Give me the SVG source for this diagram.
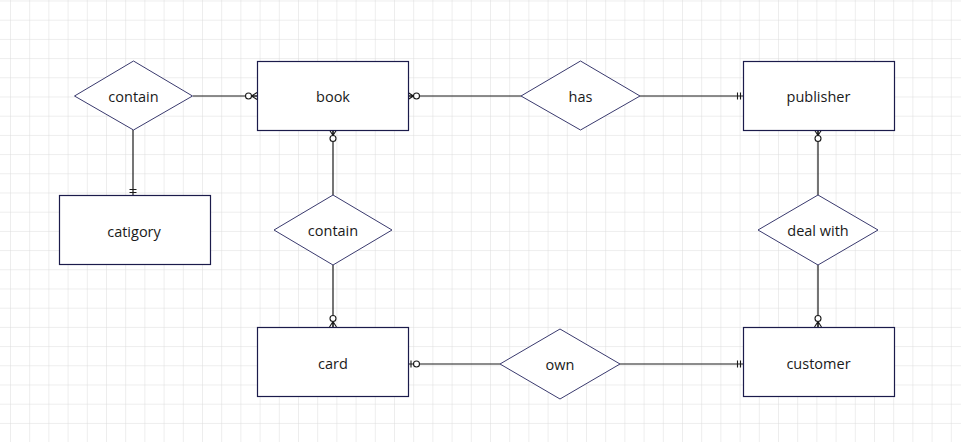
<svg xmlns="http://www.w3.org/2000/svg" width="961" height="442" viewBox="0 0 961 442">
<style>
.ent{fill:#ffffff;stroke:#1b1b4b;stroke-width:1.2}
.rel{fill:#ffffff;stroke:#3a3a6e;stroke-width:1}
.lbl{font-family:"Open Sans","Noto Sans","Liberation Sans",sans-serif;font-size:14.5px;fill:#1a1a1a;text-anchor:middle;dominant-baseline:central}
.conn{stroke:#1a1a1a;stroke-width:1.2;fill:none}
.mk{stroke:#1a1a1a;stroke-width:1.1;fill:none}
.mkc{stroke:#1a1a1a;stroke-width:1.1;fill:#ffffff}
</style>
<defs>
<pattern id="grid" patternUnits="userSpaceOnUse" x="10" y="0.5" width="19.2" height="19.2">
<path d="M0 0H19.2M0 0V19.2" stroke="#dcdcdc" stroke-width="1" fill="none"/>
</pattern>
<marker id="zeroMany" markerUnits="userSpaceOnUse" markerWidth="20" markerHeight="20" viewBox="0 0 20 20" refX="20" refY="10" orient="auto">
<path class="mk" d="M14.5 10L20 6.5M14.5 10L20 10M14.5 10L20 13.5"/>
<circle class="mkc" cx="11.5" cy="10" r="3"/>
</marker>
<marker id="zeroOne" markerUnits="userSpaceOnUse" markerWidth="20" markerHeight="20" viewBox="0 0 20 20" refX="20" refY="10" orient="auto">
<path class="mk" d="M17 6.5V13.5"/>
<circle class="mkc" cx="11.5" cy="10" r="3"/>
</marker>
<marker id="oneOnly" markerUnits="userSpaceOnUse" markerWidth="20" markerHeight="20" viewBox="0 0 20 20" refX="20" refY="10" orient="auto">
<path class="mk" d="M14.5 6.5V13.5M17.5 6.5V13.5"/>
</marker>
</defs>
<rect width="961" height="442" fill="#ffffff"/>
<rect width="961" height="442" fill="url(#grid)"/>
<g id="connectors">
<path class="conn" d="M193 96H257" marker-end="url(#zeroMany)"/>
<path class="conn" d="M133 130V195" marker-end="url(#oneOnly)"/>
<path class="conn" d="M521 96H408" marker-end="url(#zeroMany)"/>
<path class="conn" d="M640 96H743" marker-end="url(#oneOnly)"/>
<path class="conn" d="M333 195V130" marker-end="url(#zeroMany)"/>
<path class="conn" d="M333 265V327" marker-end="url(#zeroMany)"/>
<path class="conn" d="M500 364H408" marker-end="url(#zeroOne)"/>
<path class="conn" d="M620 364H743" marker-end="url(#oneOnly)"/>
<path class="conn" d="M818 195V130" marker-end="url(#zeroMany)"/>
<path class="conn" d="M818 265V327" marker-end="url(#zeroMany)"/>
</g>
<g id="contain1"><path class="rel" d="M74.5 96L133.5 61L192.5 96L133.5 130Z"/><text class="lbl" x="133.5" y="96">contain</text></g>
<g id="book"><rect class="ent" x="257.5" y="61.5" width="151" height="69"/><text class="lbl" x="333" y="96">book</text></g>
<g id="has"><path class="rel" d="M521 96L580.5 61L640 96L580.5 130Z"/><text class="lbl" x="580.5" y="96">has</text></g>
<g id="publisher"><rect class="ent" x="743.5" y="61.5" width="151" height="69"/><text class="lbl" x="818.5" y="96">publisher</text></g>
<g id="catigory"><rect class="ent" x="59.5" y="195.5" width="151" height="69"/><text class="lbl" x="134" y="231">catigory</text></g>
<g id="contain2"><path class="rel" d="M274 230L333 195L392 230L333 265Z"/><text class="lbl" x="333" y="230">contain</text></g>
<g id="dealwith"><path class="rel" d="M758 230L818 195L878 230L818 265Z"/><text class="lbl" x="818" y="230">deal with</text></g>
<g id="card"><rect class="ent" x="257.5" y="327.5" width="151" height="69"/><text class="lbl" x="333" y="363">card</text></g>
<g id="own"><path class="rel" d="M500 364L560 329L620 364L560 399Z"/><text class="lbl" x="560" y="364">own</text></g>
<g id="customer"><rect class="ent" x="743.5" y="327.5" width="151" height="69"/><text class="lbl" x="818.5" y="363">customer</text></g>
</svg>
